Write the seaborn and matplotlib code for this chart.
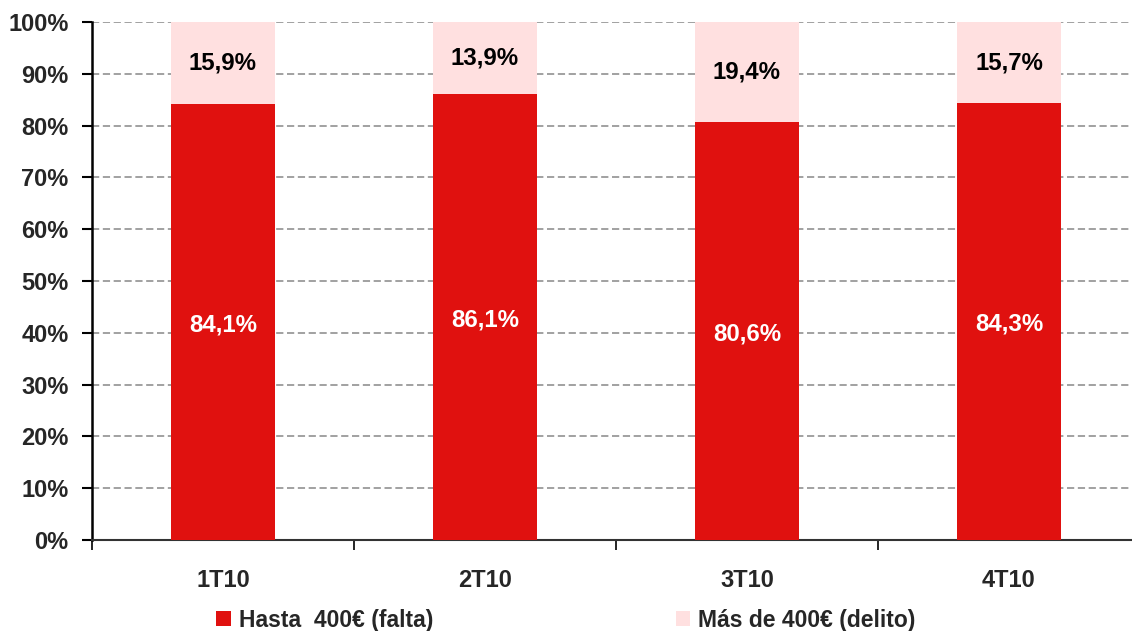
import matplotlib
matplotlib.use("Agg")
import matplotlib.pyplot as plt
from matplotlib import font_manager
from matplotlib.patches import Patch
from matplotlib.ticker import FixedLocator, PercentFormatter
import numpy as np
import pandas as pd
import seaborn as sns

# Quarterly share of thefts by amount
quarters = ["1T10", "2T10", "3T10", "4T10"]
hasta_400 = [84.1, 86.1, 80.6, 84.3]
mas_400 = [15.9, 13.9, 19.4, 15.7]
series_names = ["Hasta  400€ (falta)", "Más de 400€ (delito)"]

RED = "#E0110F"
PINK = "#FFE0E0"

sns.set_theme(style="white")
names = {f.name for f in font_manager.fontManager.ttflist}
main_font = "Liberation Sans" if "Liberation Sans" in names else "DejaVu Sans"
plt.rcParams["font.family"] = [main_font, "DejaVu Sans"]

df = pd.DataFrame({"quarter": quarters, "hasta": hasta_400, "mas": mas_400})
df["total"] = df["hasta"] + df["mas"]

fig = plt.figure(figsize=(11.32, 6.31), dpi=100)
ax = fig.add_axes([92 / 1132, 91 / 631, 1048 / 1132, 518 / 631])

ax.yaxis.grid(True, color="#9A9A9A", linestyle=(0, (4, 2)), linewidth=1.3)
ax.set_axisbelow(True)

sns.barplot(data=df, x="quarter", y="total", color=PINK, width=0.4,
            saturation=1, linewidth=0, ax=ax, zorder=2)
sns.barplot(data=df, x="quarter", y="hasta", color=RED, width=0.4,
            saturation=1, linewidth=0, ax=ax, zorder=3)

for i, (r, p) in enumerate(zip(hasta_400, mas_400)):
    ax.text(i, r / 2 - 0.5, f"{r:.1f}%".replace(".", ","), ha="center", va="center",
            color="white", fontsize=17.3, fontweight="bold", zorder=4)
    ax.text(i, r + p / 2, f"{p:.1f}%".replace(".", ","), ha="center", va="center",
            color="black", fontsize=17.3, fontweight="bold", zorder=4)

ax.set_xlim(-0.5, 3.5)
ax.set_ylim(0, 100)
ax.yaxis.set_major_locator(FixedLocator(np.arange(0, 101, 10)))
ax.yaxis.set_major_formatter(PercentFormatter(decimals=0))
ax.set_xlabel("")
ax.set_ylabel("")

for lab in ax.get_yticklabels():
    lab.set_fontsize(17)
    lab.set_fontweight("bold")
ax.tick_params(axis="y", left=True, length=7, width=1.5, color="black", pad=10)

ax.set_xticks(range(len(quarters)))
ax.set_xticklabels(quarters, fontsize=17, fontweight="bold")
ax.tick_params(axis="x", which="major", length=0, pad=21)
ax.set_xticks(np.arange(-0.5, len(quarters) + 0.5, 1), minor=True)
ax.tick_params(axis="x", which="minor", bottom=True, length=7, width=1.2, color="black")

for side in ["top", "right"]:
    ax.spines[side].set_visible(False)
ax.spines["left"].set_color("black")
ax.spines["left"].set_linewidth(1.8)
ax.spines["bottom"].set_color("#333333")
ax.spines["bottom"].set_linewidth(1.5)

handles = [Patch(facecolor=RED, edgecolor="none"), Patch(facecolor=PINK, edgecolor="none")]
fig.legend(handles, series_names, loc="center", bbox_to_anchor=(0.5, 11 / 631),
           ncol=2, frameon=False, columnspacing=10.6, handlelength=0.62, handleheight=0.62,
           handletextpad=0.35, prop={"weight": "bold", "size": 16.5})

fig.savefig("out.png", dpi=100)
